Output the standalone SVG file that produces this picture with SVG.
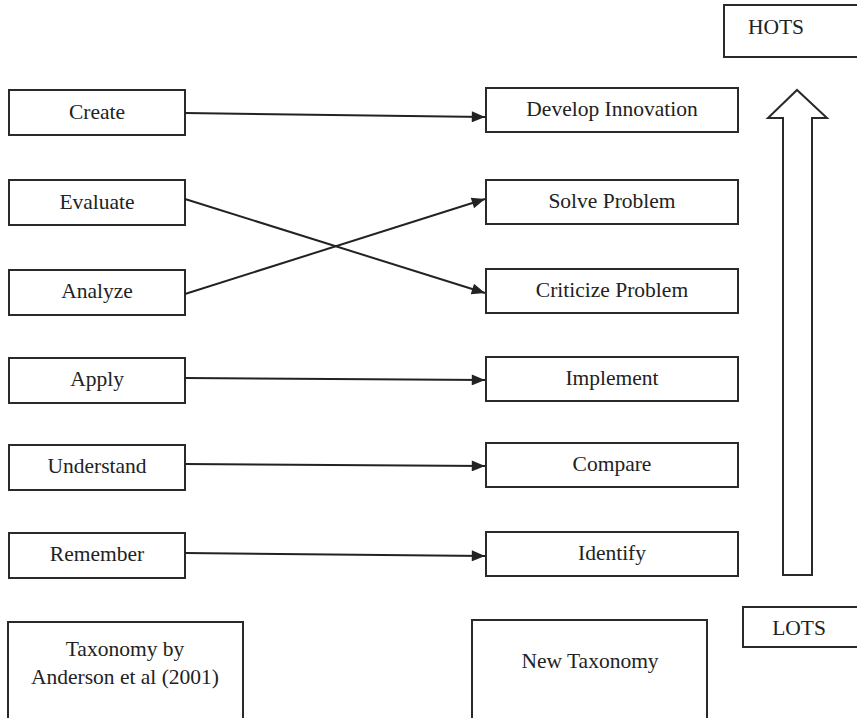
<svg xmlns="http://www.w3.org/2000/svg" width="857" height="718" viewBox="0 0 857 718">
<style>
.b{fill:#fff;stroke:#2a2a2a;stroke-width:2}
.t{font-family:"Liberation Serif","Times New Roman",serif;font-size:21.5px;fill:#222;text-anchor:middle;dominant-baseline:central}
.c{stroke:#222;stroke-width:2;fill:none;marker-end:url(#ah)}
</style>
<defs>
<marker id="ah" viewBox="0 0 12 10" refX="12" refY="5" markerWidth="7.5" markerHeight="5.5" markerUnits="strokeWidth" orient="auto"><path d="M0,0L12,5L0,10z" fill="#222"/></marker>
</defs>
<rect width="857" height="718" fill="#fff"/>
<g id="create"><rect class="b" x="9" y="90" width="176" height="45"/><text class="t" x="97" y="112">Create</text></g>
<g id="evaluate"><rect class="b" x="9" y="180" width="176" height="45"/><text class="t" x="97" y="202">Evaluate</text></g>
<g id="analyze"><rect class="b" x="9" y="270" width="176" height="45"/><text class="t" x="97" y="291">Analyze</text></g>
<g id="apply"><rect class="b" x="9" y="358" width="176" height="45"/><text class="t" x="97" y="379">Apply</text></g>
<g id="understand"><rect class="b" x="9" y="445" width="176" height="45"/><text class="t" x="97" y="466">Understand</text></g>
<g id="remember"><rect class="b" x="9" y="533" width="176" height="45"/><text class="t" x="97" y="554">Remember</text></g>
<g id="develop"><rect class="b" x="486" y="88" width="252" height="44"/><text class="t" x="612" y="109">Develop Innovation</text></g>
<g id="solve"><rect class="b" x="486" y="180" width="252" height="44"/><text class="t" x="612" y="201">Solve Problem</text></g>
<g id="criticize"><rect class="b" x="486" y="269" width="252" height="44"/><text class="t" x="612" y="290">Criticize Problem</text></g>
<g id="implement"><rect class="b" x="486" y="357" width="252" height="44"/><text class="t" x="612" y="378">Implement</text></g>
<g id="compare"><rect class="b" x="486" y="443" width="252" height="44"/><text class="t" x="612" y="464">Compare</text></g>
<g id="identify"><rect class="b" x="486" y="532" width="252" height="44"/><text class="t" x="612" y="553">Identify</text></g>
<g id="anderson"><rect class="b" x="8" y="622" width="235" height="100"/><text class="t" x="125" y="649">Taxonomy by</text><text class="t" x="125" y="677">Anderson et al (2001)</text></g>
<g id="newtax"><rect class="b" x="472" y="620" width="235" height="100"/><text class="t" x="590" y="661">New Taxonomy</text></g>
<g id="hots"><rect class="b" x="724" y="5" width="140" height="52"/><text class="t" x="776" y="27">HOTS</text></g>
<g id="lots"><rect class="b" x="743" y="607" width="120" height="40"/><text class="t" x="799" y="628">LOTS</text></g>
<g id="bigarrow"><path class="b" d="M783,575L783,118L768,118L797,90L827,118L812,118L812,575Z"/></g>
<g id="connectors">
<path class="c" d="M185,113L485,117"/>
<path class="c" d="M185,199L485,293"/>
<path class="c" d="M185,294L485,199"/>
<path class="c" d="M185,378L485,380"/>
<path class="c" d="M185,464L485,466"/>
<path class="c" d="M185,553L485,556"/>
</g>
</svg>
